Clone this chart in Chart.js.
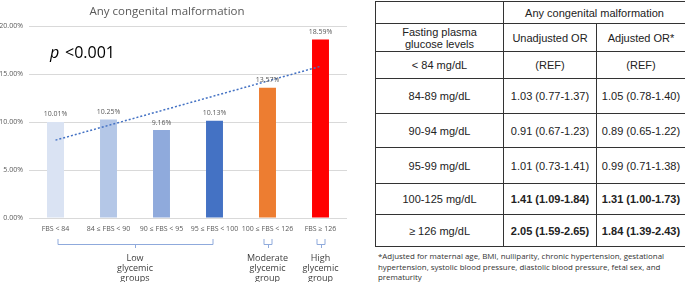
<!DOCTYPE html>
<html>
<head>
<meta charset="utf-8">
<script src="https://cdn.jsdelivr.net/npm/chart.js@4.4.1/dist/chart.umd.min.js"></script>
<style>
  body { margin: 0; background: #fff; width: 685px; height: 282px; position: relative; overflow: hidden; }
  #wrap { position: absolute; left: 0; top: 0; width: 350px; height: 282px; }
  table { position: absolute; left: 375px; top: 1px; width: 310px; border-collapse: collapse; table-layout: fixed;
          font-family: "Liberation Sans", Arial, sans-serif; font-size: 11px; color: #222; }
  td { border: 1px solid #333; padding: 0; text-align: center; vertical-align: middle; line-height: 12px; }
  #note { position: absolute; left: 378px; top: 251px; font-family: "Open Sans", sans-serif; white-space: nowrap;
          font-size: 7.9px; line-height: 10.5px; color: #333; }
</style>
</head>
<body>
<div id="wrap"><canvas id="c" width="350" height="282"></canvas></div>
<table id="tbl"></table>
<div id="note"></div>
<script>
// chart data
const categories = ['FBS < 84', '84 ≤ FBS < 90', '90 ≤ FBS < 95', '95 ≤ FBS < 100', '100 ≤ FBS < 126', 'FBS ≥ 126'];
const rates = [10.01, 10.25, 9.16, 10.13, 13.57, 18.59];
const trend = [8.11, null, null, null, null, 15.80]; // dotted trendline ends
const barColors = ['#dae3f3', '#b4c7e7', '#8faadc', '#4472c4', '#ed7d31', '#ff0000'];
const groupLabels = [['Low', 'glycemic', 'groups'], ['Moderate', 'glycemic', 'group'], ['High', 'glycemic', 'group']];
const groupSpans = [[0, 3], [4, 4], [5, 5]];

// table data
const levels = ['< 84 mg/dL', '84-89 mg/dL', '90-94 mg/dL', '95-99 mg/dL', '100-125 mg/dL', '≥ 126 mg/dL'];
const unadjusted = ['(REF)', '1.03 (0.77-1.37)', '0.91 (0.67-1.23)', '1.01 (0.73-1.41)', '1.41 (1.09-1.84)', '2.05 (1.59-2.65)'];
const adjusted = ['(REF)', '1.05 (0.78-1.40)', '0.89 (0.65-1.22)', '0.99 (0.71-1.38)', '1.31 (1.00-1.73)', '1.84 (1.39-2.43)'];
const significant = [false, false, false, false, true, true];
const rowHeights = [22, 28, 27, 35, 34, 36, 31, 32];
const footnote = ['*Adjusted for maternal age, BMI, nulliparity, chronic hypertension, gestational',
  'hypertension, systolic blood pressure, diastolic blood pressure, fetal sex, and', 'prematurity'];

const tbl = document.getElementById('tbl');
let html = '<colgroup><col style="width:128px"><col style="width:93px"><col style="width:89px"></colgroup>';
html += `<tr style="height:${rowHeights[0]}px"><td></td><td colspan="2">Any congenital malformation</td></tr>`;
html += `<tr style="height:${rowHeights[1]}px"><td>Fasting plasma<br>glucose levels</td><td>Unadjusted OR</td><td>Adjusted OR*</td></tr>`;
levels.forEach((lv, i) => {
  const w = significant[i] ? 'bold' : 'normal';
  html += `<tr style="height:${rowHeights[i + 2]}px"><td>${lv}</td>` +
    `<td style="font-weight:${w}">${unadjusted[i]}</td><td style="font-weight:${w}">${adjusted[i]}</td></tr>`;
});
tbl.innerHTML = html;
document.getElementById('note').innerHTML = footnote.join('<br>');

const FONT = '"Open Sans", sans-serif';

const extras = {
  id: 'extras',
  afterDatasetsDraw(chart) {
    const ctx = chart.ctx;
    const x = chart.scales.x;
    ctx.save();
    // title
    ctx.fillStyle = '#595959';
    ctx.font = '11.5px ' + FONT;
    ctx.textAlign = 'center';
    ctx.textBaseline = 'middle';
    ctx.fillText('Any congenital malformation', 167, 12);
    // value labels
    ctx.font = '7px ' + FONT;
    ctx.textBaseline = 'bottom';
    const meta = chart.getDatasetMeta(0);
    meta.data.forEach((bar, i) => {
      ctx.fillText(rates[i].toFixed(2) + '%', bar.x, bar.y - 4);
    });
    // p value
    ctx.fillStyle = '#000';
    ctx.textAlign = 'left';
    ctx.textBaseline = 'middle';
    ctx.font = 'italic 16px ' + FONT;
    ctx.fillText('p', 50, 53);
    ctx.font = '16px ' + FONT;
    ctx.fillText('<0.001', 65, 53);
    // brackets + group labels
    ctx.strokeStyle = '#8faadc';
    ctx.lineWidth = 1;
    ctx.fillStyle = '#404040';
    ctx.font = '9px ' + FONT;
    ctx.textAlign = 'center';
    groupSpans.forEach((s, g) => {
      let x1 = x.getPixelForValue(s[0]), x2 = x.getPixelForValue(s[1]);
      if (s[0] === s[1]) { x1 -= 4; x2 += 4; } else { x1 += 2; x2 -= 2; }
      const xm = (x1 + x2) / 2;
      ctx.beginPath();
      ctx.moveTo(x1 + 0.5, 239);
      ctx.lineTo(x1 + 0.5, 244.5);
      ctx.lineTo(x2 + 0.5, 244.5);
      ctx.lineTo(x2 + 0.5, 239);
      ctx.moveTo(Math.round(xm) + 0.5, 244.5);
      ctx.lineTo(Math.round(xm) + 0.5, 248);
      ctx.stroke();
      groupLabels[g].forEach((t, k) => ctx.fillText(t, xm, 258 + k * 10));
    });
    ctx.restore();
  }
};

new Chart(document.getElementById('c'), {
  data: {
    labels: categories,
    datasets: [
      {
        type: 'bar',
        data: rates,
        backgroundColor: barColors,
        categoryPercentage: 1,
        barPercentage: 0.32,
        order: 2
      },
      {
        type: 'line',
        data: trend,
        spanGaps: true,
        borderColor: '#4472c4',
        borderWidth: 1.5,
        borderDash: [2, 2],
        pointRadius: 0,
        order: 1
      }
    ]
  },
  options: {
    responsive: false,
    animation: false,
    layout: { padding: { top: 26, right: 3, left: 0, bottom: 0 } },
    plugins: { legend: { display: false }, tooltip: { enabled: false } },
    scales: {
      x: {
        grid: { display: false, drawTicks: false },
        border: { display: false },
        ticks: { color: '#595959', font: { family: FONT, size: 7 }, padding: 7, maxRotation: 0, autoSkip: false },
        afterFit(s) { s.height = 64; }
      },
      y: {
        min: 0, max: 20,
        ticks: { stepSize: 5, color: '#595959', font: { family: FONT, size: 7 }, padding: 6,
                 callback: v => v.toFixed(2) + '%' },
        grid: { color: '#d9d9d9', drawTicks: false },
        border: { display: false },
        afterFit(s) { s.width = 29; }
      }
    }
  },
  plugins: [extras]
});
</script>
</body>
</html>
